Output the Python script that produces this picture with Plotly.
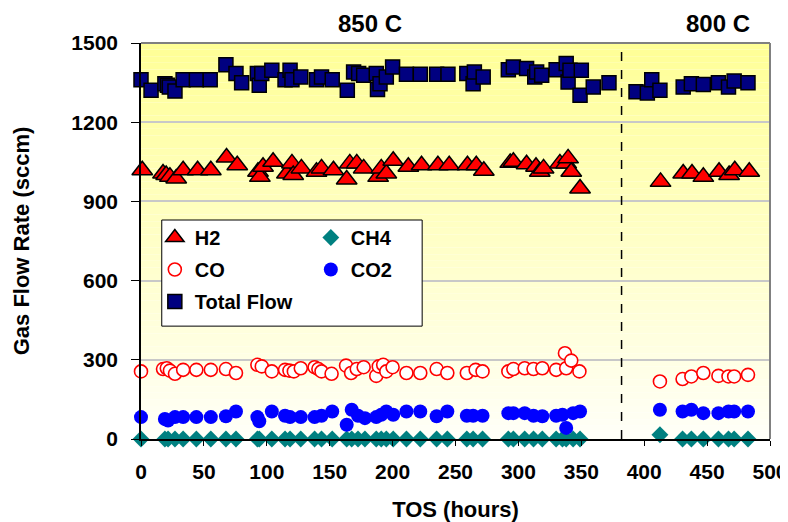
import plotly.graph_objects as go

# ---------------- data ----------------
tos_total = [0, 8, 19, 21, 22.5, 27, 33.5, 44, 55, 67.5, 75.5, 80, 92.5, 94, 96, 104, 114.5, 118.5, 120, 127,
             139.5, 143.5, 152, 164, 169, 173, 177, 187, 188, 190, 195, 200, 211, 222, 235, 244, 259, 264, 265,
             272, 292, 296, 306.5, 313, 314.5, 318.5, 330, 338, 339.5, 341, 349, 350, 359.5, 372, 393.5, 402.5,
             406, 412.5, 431, 437.5, 447, 459, 467, 471.5, 482.5]
total = [1361, 1321, 1346, 1340, 1333, 1318, 1361, 1361, 1361, 1418, 1384, 1349, 1384, 1340, 1384, 1397, 1361,
         1397, 1361, 1371, 1361, 1371, 1361, 1321, 1390, 1384, 1378, 1384, 1324, 1346, 1371, 1409, 1382, 1382,
         1382, 1382, 1384, 1346, 1390, 1371, 1399, 1409, 1403, 1371, 1390, 1378, 1399, 1422, 1352, 1397, 1302,
         1397, 1333, 1349, 1315, 1311, 1361, 1321, 1333, 1346, 1343, 1349, 1333, 1356, 1349]

tos_h2 = [1, 17.5, 20, 23, 28, 33.5, 45, 55.5, 68, 76.5, 93, 94.5, 97, 105, 116, 120, 121, 127.5, 139.5, 143.5,
          153, 163.5, 166, 171.5, 177, 188.5, 191, 195, 200.5, 212.5, 223, 236, 245, 259.5, 266.5, 272.5, 293.5,
          296, 306.5, 314, 317, 320, 333, 338, 339.5, 342, 349, 413, 431, 438, 447, 459.5, 467.5, 472, 483.5]
h2 = [1018, 1006, 1000, 993, 987, 1018, 1018, 1018, 1066, 1037, 1012, 993, 1031, 1050, 1006, 1044, 1000, 1025,
      1012, 1025, 1018, 983, 1044, 1044, 1025, 993, 1025, 1006, 1054, 1031, 1037, 1037, 1037, 1037, 1037, 1016,
      1046, 1050, 1041, 1031, 1012, 1025, 1044, 1044, 1063, 1012, 949, 974, 1006, 1006, 993, 1012, 1000, 1018,
      1012]

tos_co = [0, 17.5, 20.5, 23, 27, 33.5, 44, 55.5, 67.5, 75.5, 92.5, 96, 104, 114.5, 118, 121.5, 127, 138, 141,
          143.5, 151.5, 163, 167, 171.5, 177, 187, 189, 192.5, 195, 200, 211, 222, 235, 243.5, 259, 266, 271.5,
          292, 296, 305, 312, 319, 330, 337, 338, 342, 348.5, 412.5, 430.5, 437.5, 447, 459, 467, 471.5, 482.5]
co = [256, 265, 268, 259, 247, 262, 262, 262, 265, 250, 281, 275, 256, 262, 259, 256, 268, 272, 265, 256, 247,
      278, 250, 265, 272, 239, 275, 281, 256, 272, 250, 250, 265, 250, 250, 262, 256, 256, 265, 268, 265, 268,
      262, 325, 268, 297, 256, 218, 227, 237, 250, 239, 237, 237, 243]

tos_co2 = [0, 19, 21.5, 27, 33.5, 44, 55.5, 67.5, 75.5, 92.5, 94, 104, 114.5, 118.5, 127, 138, 143.5, 152, 163.5,
           167.5, 172.5, 178, 187, 191, 195, 200.5, 211, 222, 235, 243.5, 259, 264, 271.5, 292, 296, 305, 312,
           319, 330, 335, 338, 343.5, 349, 412.5, 430.5, 437.5, 447, 459, 467, 471.5, 482.5]
co2 = [83, 76, 70, 83, 83, 83, 83, 86, 104, 83, 67, 104, 88, 83, 83, 83, 88, 104, 54, 111, 88, 79, 83, 92, 104,
       92, 104, 104, 86, 104, 88, 88, 88, 98, 98, 98, 88, 86, 88, 92, 42, 98, 104, 111, 104, 111, 98, 98, 104,
       104, 104]

tos_ch4 = [0, 19, 21.5, 27, 33.5, 44, 55.5, 67.5, 75.5, 92.5, 94, 104, 114.5, 118.5, 127, 138, 143.5, 152, 163.5,
           167.5, 172.5, 178, 187, 191, 195, 200.5, 211, 222, 235, 243.5, 259, 264, 271.5, 292, 296, 305, 312,
           319, 330, 335, 338, 343.5, 349, 412.5, 430.5, 437.5, 447, 459, 467, 471.5, 482.5]
ch4 = [0, 0, 0, 0, 0, 0, 0, 0, 0, 0, 0, 0, 0, 0, 0, 0, 0, 0, 0, 0, 0, 0, 0, 0, 0, 0, 0, 0, 0, 0, 0, 0, 0, 0, 0,
       0, 0, 0, 0, 0, 0, 0, 0, 16, 0, 0, 0, 0, 0, 0, 0]

x_ticks = [0, 50, 100, 150, 200, 250, 300, 350, 400, 450, 500]
y_ticks = [0, 300, 600, 900, 1200, 1500]
switch_tos = 382
regions = [("850 C", 182), ("800 C", 459)]

FONT = "Arial, Liberation Sans, sans-serif"

fig = go.Figure()
fig.add_trace(go.Scatter(x=tos_h2, y=h2, mode="markers", name="H2", legend="legend", legendgroup="a",
                         cliponaxis=False,
                         marker=dict(symbol="triangle-up", size=18, color="#FF0000",
                                     line=dict(color="black", width=1.5))))
fig.add_trace(go.Scatter(x=tos_ch4, y=ch4, mode="markers", name="CH4", legend="legend2", legendgroup="b",
                         cliponaxis=False,
                         marker=dict(symbol="diamond", size=13, color="#008080", line=dict(width=0))))
fig.add_trace(go.Scatter(x=tos_co, y=co, mode="markers", name="CO", legend="legend", legendgroup="c",
                         cliponaxis=False,
                         marker=dict(symbol="circle", size=13, color="white",
                                     line=dict(color="#FF0000", width=1.6))))
fig.add_trace(go.Scatter(x=tos_co2, y=co2, mode="markers", name="CO2", legend="legend2", legendgroup="d",
                         cliponaxis=False,
                         marker=dict(symbol="circle", size=14, color="#0000FF", line=dict(width=0))))
fig.add_trace(go.Scatter(x=tos_total, y=total, mode="markers", name="Total Flow", legend="legend",
                         legendgroup="e", cliponaxis=False,
                         marker=dict(symbol="square", size=14, color="#000080",
                                     line=dict(color="black", width=1.5))))

# gradient background (yellow top -> near white bottom)
shapes = []
N = 60
for i in range(N):
    f = (i + 0.5) / N
    b = int(round(248 - (248 - 150) * f))
    shapes.append(dict(type="rect", xref="paper", yref="paper", x0=0, x1=1, y0=i / N, y1=(i + 1) / N,
                       fillcolor=f"rgb(255,255,{b})", line=dict(width=0), layer="below"))
# plot border (top & right)
shapes.append(dict(type="line", xref="paper", yref="paper", x0=0, x1=1, y0=1, y1=1,
                   line=dict(color="#808080", width=2), layer="above"))
shapes.append(dict(type="line", xref="paper", yref="paper", x0=1, x1=1, y0=0, y1=1,
                   line=dict(color="#808080", width=2), layer="above"))
# dashed separator
shapes.append(dict(type="line", xref="x", yref="y", x0=switch_tos, x1=switch_tos, y0=0, y1=1500,
                   line=dict(color="black", width=1.5, dash="dash"), layer="above"))
# legend box
shapes.append(dict(type="rect", xref="paper", yref="paper", x0=0.033, x1=0.447, y0=0.285, y1=0.553,
                   fillcolor="white", line=dict(color="black", width=1), layer="above"))

annotations = [dict(text=f"<b>{t}</b>", x=xv, xref="x", y=1, yref="paper", yanchor="middle", yshift=20,
                    showarrow=False, font=dict(family=FONT, size=24, color="black"))
               for t, xv in regions]

LEGFONT = dict(family=FONT, size=20, color="black", weight="bold")

# the page body adds an 8px offset, so the figure is 8px smaller and margins shifted
fig.update_layout(
    width=780, height=514,
    margin=dict(l=133, r=18, t=35, b=83, autoexpand=False),
    paper_bgcolor="white", plot_bgcolor="white",
    font=dict(family=FONT, size=21, color="black"),
    shapes=shapes, annotations=annotations,
    showlegend=True,
    legend=dict(x=0.022, y=0.558, xanchor="left", yanchor="top", bgcolor="rgba(0,0,0,0)",
                traceorder="grouped", tracegroupgap=3, font=LEGFONT),
    legend2=dict(x=0.270, y=0.558, xanchor="left", yanchor="top", bgcolor="rgba(0,0,0,0)",
                 traceorder="grouped", tracegroupgap=3, font=LEGFONT),
    xaxis=dict(range=[0, 500], tickvals=x_ticks, ticks="outside", ticklen=5, tickwidth=1.2, tickcolor="black",
               showline=True, linecolor="black", linewidth=1.5, showgrid=False, zeroline=False,
               automargin=False, ticklabelstandoff=8,
               tickfont=dict(family=FONT, size=21, color="black", weight="bold"),
               title=dict(text="<b>TOS (hours)</b>", standoff=23, font=dict(family=FONT, size=22))),
    yaxis=dict(range=[0, 1500], tickvals=y_ticks, ticks="outside", ticklen=8, tickwidth=1.2, tickcolor="black",
               showline=True, linecolor="black", linewidth=1.5, showgrid=True, gridcolor="#C8C8C8",
               gridwidth=1.5, zeroline=False, automargin=False, ticklabelstandoff=9,
               tickfont=dict(family=FONT, size=21, color="black", weight="bold"),
               title=dict(text="<b>Gas Flow Rate (sccm)</b>", standoff=36, font=dict(family=FONT, size=22))),
)

fig.write_html("out.html")
